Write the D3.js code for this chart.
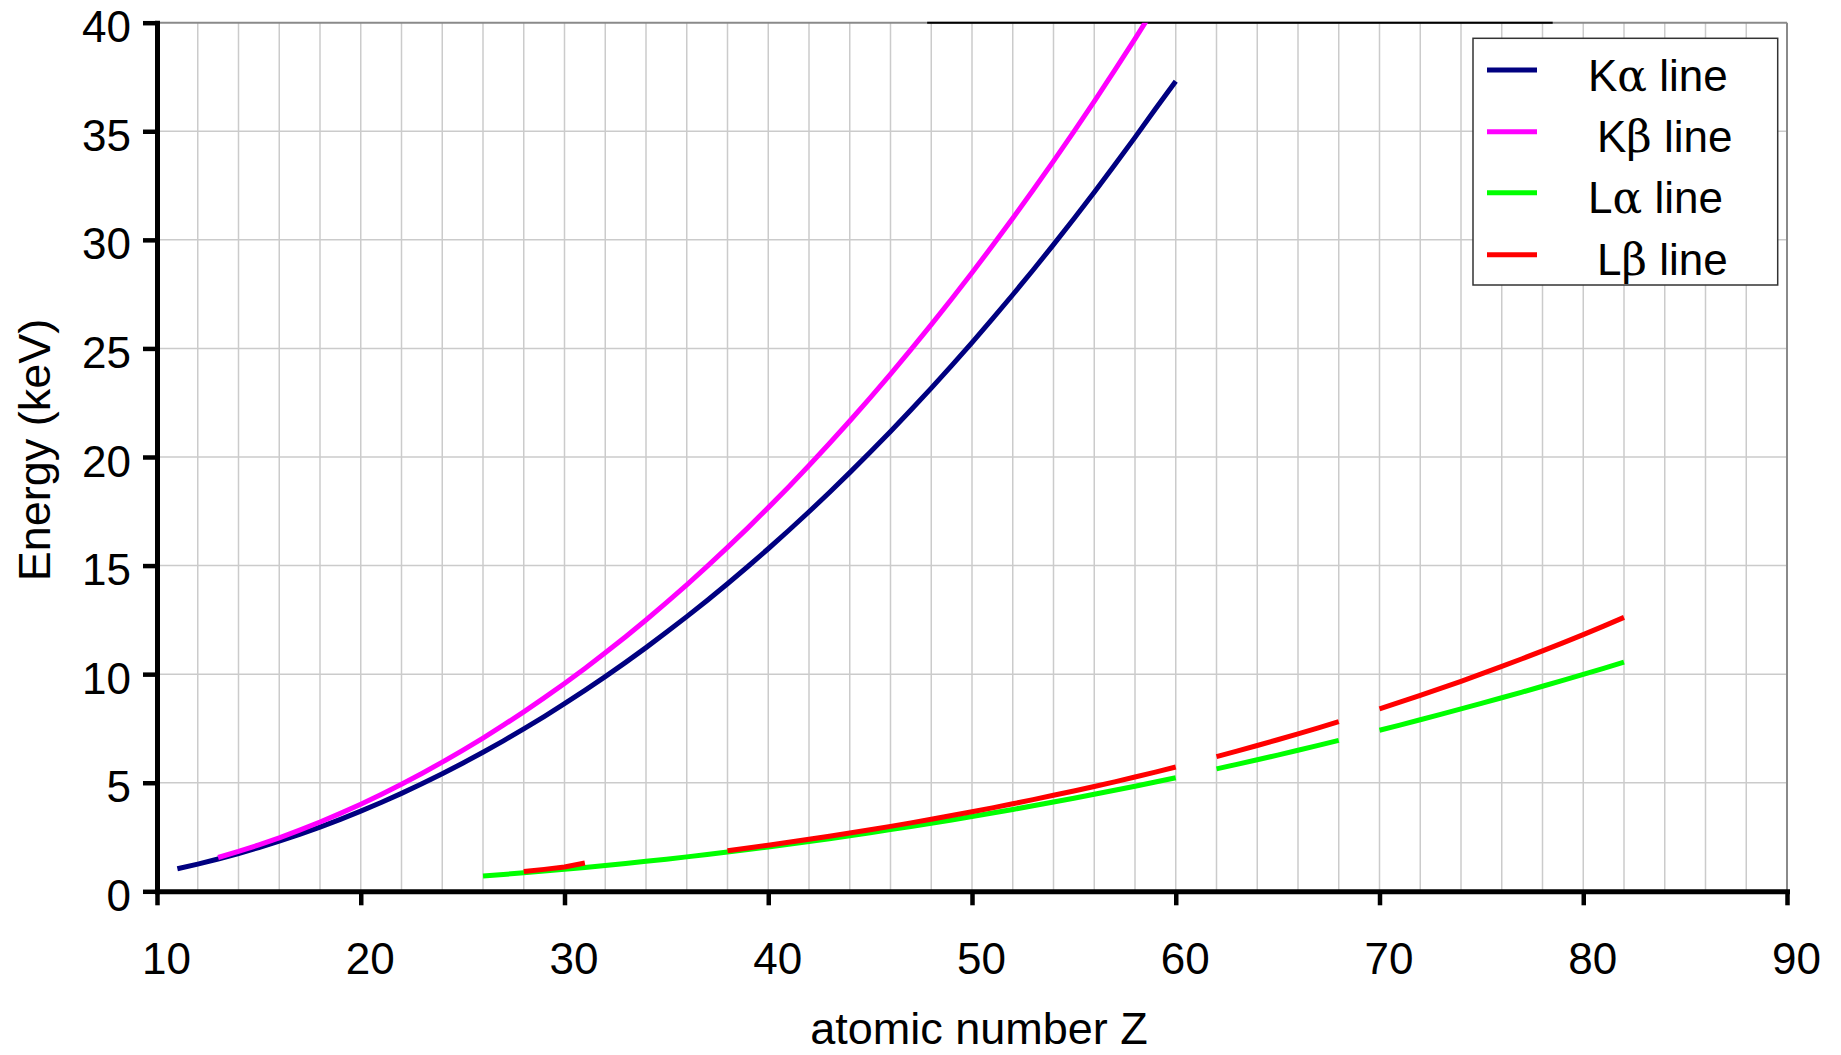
<!DOCTYPE html>
<html>
<head>
<meta charset="utf-8">
<script src="https://cdn.jsdelivr.net/npm/d3@7"></script>
<style>
  html, body { margin: 0; padding: 0; background: #fff; }
  svg { display: block; }
</style>
</head>
<body>
<svg id="chart" width="1841" height="1055"></svg>
<script>
// ---------------- data ----------------
const atomicNumbers = [11,12,13,14,15,16,17,18,19,20,21,22,23,24,25,26,27,28,29,30,
  31,32,33,34,35,36,37,38,39,40,41,42,43,44,45,46,47,48,49,50,
  51,52,53,54,55,56,57,58,59,60,61,62,63,64,65,66,67,68,69,70,
  71,72,73,74,75,76,77,78,79,80,81,82];

const kAlpha = [1.041,1.254,1.487,1.740,2.014,2.308,2.622,2.957,3.314,3.692,
  4.091,4.511,4.952,5.415,5.899,6.404,6.930,7.478,8.048,8.639,
  9.252,9.886,10.544,11.222,11.924,12.649,13.395,14.165,14.958,15.775,
  16.615,17.479,18.367,19.279,20.216,21.177,22.163,23.174,24.210,25.271,
  26.359,27.472,28.612,29.779,30.973,32.194,33.442,34.720,36.026,37.30,
  null,null,null,null,null,null,null,null,null,null,
  null,null,null,null,null,null,null,null,null,null,null,null];

const kBeta = [null,null,1.557,1.836,2.139,2.464,2.816,3.190,3.590,4.013,
  4.461,4.932,5.427,5.947,6.490,7.058,7.649,8.265,8.905,9.572,
  10.264,10.982,11.726,12.496,13.291,14.112,14.961,15.836,16.738,17.668,
  18.623,19.608,20.619,21.657,22.724,23.819,24.942,26.096,27.276,28.486,
  29.726,30.996,32.295,33.624,34.987,36.378,37.801,39.258,40.748,null,
  null,null,null,null,null,null,null,null,null,null,
  null,null,null,null,null,null,null,null,null,null,null,null];

const lAlpha = [null,null,null,null,null,null,null,null,null,null,
  null,null,null,null,null,0.705,0.776,0.852,0.930,1.012,
  1.098,1.188,1.282,1.379,1.480,1.586,1.694,1.806,1.922,2.042,
  2.166,2.293,2.424,2.558,2.697,2.839,2.984,3.134,3.287,3.444,
  3.605,3.769,3.938,4.110,4.287,4.466,4.651,4.840,5.034,5.230,
  null,5.636,5.846,6.057,6.273,6.495,6.720,6.949,null,7.416,
  7.656,7.899,8.146,8.398,8.653,8.912,9.175,9.442,9.713,9.989,10.269,10.551];

const lBeta = [null,null,null,null,null,null,null,null,null,null,
  null,null,null,null,null,null,null,0.91,1.01,1.12,
  1.30,null,null,null,null,null,null,1.872,1.996,2.124,
  2.257,2.395,2.538,2.683,2.834,2.990,3.151,3.316,3.487,3.662,
  3.843,4.029,4.220,4.422,4.620,4.828,5.042,5.262,5.489,5.722,
  null,6.205,6.456,6.713,6.978,7.248,7.525,7.811,null,8.402,
  8.709,9.023,9.343,9.672,10.010,10.355,10.708,11.071,11.443,11.823,12.213,12.614];

const seriesNames = ["K\u03B1 line", "K\u03B2 line", "L\u03B1 line", "L\u03B2 line"];
const seriesColors = ["#000080", "#FF00FF", "#00FF00", "#FF0000"];
const seriesValues = [kAlpha, kBeta, lAlpha, lBeta];

const xTicks = [10,20,30,40,50,60,70,80,90];
const xGrid = [12,14,16,18,20,22,24,26,28,30,32,34,36,38,40,42,44,46,48,50,
  52,54,56,58,60,62,64,66,68,70,72,74,76,78,80,82,84,86,88];
const yTicks = [0,5,10,15,20,25,30,35,40];
const xTitle = "atomic number Z";
const yTitle = "Energy (keV)";

// ---------------- layout ----------------
const FONT = "'Liberation Sans', Arial, sans-serif";
const svg = d3.select("#chart");
const x = d3.scaleLinear().domain([10, 90]).range([157, 1787]);
const y = d3.scaleLinear().domain([0, 40]).range([891.3, 22.7]);

svg.append("rect").attr("width", 1841).attr("height", 1055).attr("fill", "#fff");

// gridlines
const grid = svg.append("g");
grid.selectAll("line.v").data(xGrid).enter().append("line")
  .attr("x1", d => x(d)).attr("x2", d => x(d))
  .attr("y1", y(40)).attr("y2", y(0))
  .attr("stroke", "#cbcbcb").attr("stroke-width", 1.5);
grid.selectAll("line.h").data(yTicks.filter(d => d > 0 && d < 40)).enter().append("line")
  .attr("x1", x(10)).attr("x2", x(90))
  .attr("y1", d => y(d)).attr("y2", d => y(d))
  .attr("stroke", "#cbcbcb").attr("stroke-width", 1.5);

// plot frame (top / right)
svg.append("line").attr("x1", x(10)).attr("x2", x(90)).attr("y1", y(40)).attr("y2", y(40))
  .attr("stroke", "#8a8a8a").attr("stroke-width", 2);
svg.append("line").attr("x1", x(90)).attr("x2", x(90)).attr("y1", y(40)).attr("y2", y(0))
  .attr("stroke", "#8a8a8a").attr("stroke-width", 2);
svg.append("line").attr("x1", x(47.8)).attr("x2", x(78.5)).attr("y1", y(40)).attr("y2", y(40))
  .attr("stroke", "#000").attr("stroke-width", 2);

// clip
svg.append("clipPath").attr("id", "plotclip").append("rect")
  .attr("x", x(10)).attr("y", y(40)).attr("width", x(90) - x(10)).attr("height", y(0) - y(40));

const line = d3.line()
  .defined(d => d[1] != null)
  .x(d => x(d[0])).y(d => y(d[1]));

const plot = svg.append("g").attr("clip-path", "url(#plotclip)");
seriesValues.forEach((vals, i) => {
  const pts = atomicNumbers.map((z, k) => [z, vals[k]]);
  plot.append("path").datum(pts)
    .attr("d", line)
    .attr("fill", "none")
    .attr("stroke", seriesColors[i])
    .attr("stroke-width", 5)
    .attr("stroke-linejoin", "round");
});

// axes
const yAxis = svg.append("g").attr("transform", `translate(${x(10)},0)`)
  .call(d3.axisLeft(y).tickValues(yTicks).tickSize(14).tickSizeOuter(0).tickFormat(d3.format("d")));
const xAxis = svg.append("g").attr("transform", `translate(0,${y(0)})`)
  .call(d3.axisBottom(x).tickValues(xTicks).tickSize(14).tickSizeOuter(0).tickFormat(d3.format("d")));

[xAxis, yAxis].forEach(g => {
  g.select(".domain").attr("stroke", "#000").attr("stroke-width", 5).attr("stroke-linecap", "square");
  g.selectAll(".tick line").attr("stroke", "#000").attr("stroke-width", 4.5);
  g.selectAll("text").attr("fill", "#000").style("font-family", FONT).style("font-size", "44px");
});
yAxis.selectAll("text").attr("x", -26).attr("dy", "0").attr("y", 19);
xAxis.selectAll("text").attr("y", 83).attr("dy", "0").attr("x", 9);

// axis titles
svg.append("text").text(xTitle)
  .attr("x", 979).attr("y", 1044).attr("text-anchor", "middle")
  .style("font-family", FONT).style("font-size", "45px").attr("fill", "#000");
svg.append("text").text(yTitle)
  .attr("transform", "translate(50,450) rotate(-90)").attr("text-anchor", "middle")
  .style("font-family", FONT).style("font-size", "45px").attr("fill", "#000");

// legend
const legend = svg.append("g");
legend.append("rect").attr("x", 1473).attr("y", 38.3).attr("width", 304.7).attr("height", 246.7)
  .attr("fill", "#fff").attr("stroke", "#333").attr("stroke-width", 1.5);
const rowY = [70, 131.7, 192.7, 254.7];
const textX = [1588, 1597, 1588, 1597];
seriesNames.forEach((name, i) => {
  legend.append("line").attr("x1", 1487).attr("x2", 1537).attr("y1", rowY[i]).attr("y2", rowY[i])
    .attr("stroke", seriesColors[i]).attr("stroke-width", 5);
  const t = legend.append("text").attr("x", textX[i]).attr("y", rowY[i] + 20.7)
    .style("font-family", FONT).style("font-size", "44px").attr("fill", "#000");
  t.append("tspan").text(name.slice(0, 1));
  t.append("tspan").text(name.slice(1, 2)).style("font-family", "'DejaVu Serif', 'Liberation Serif', serif");
  t.append("tspan").text(name.slice(2));
});
</script>
</body>
</html>
